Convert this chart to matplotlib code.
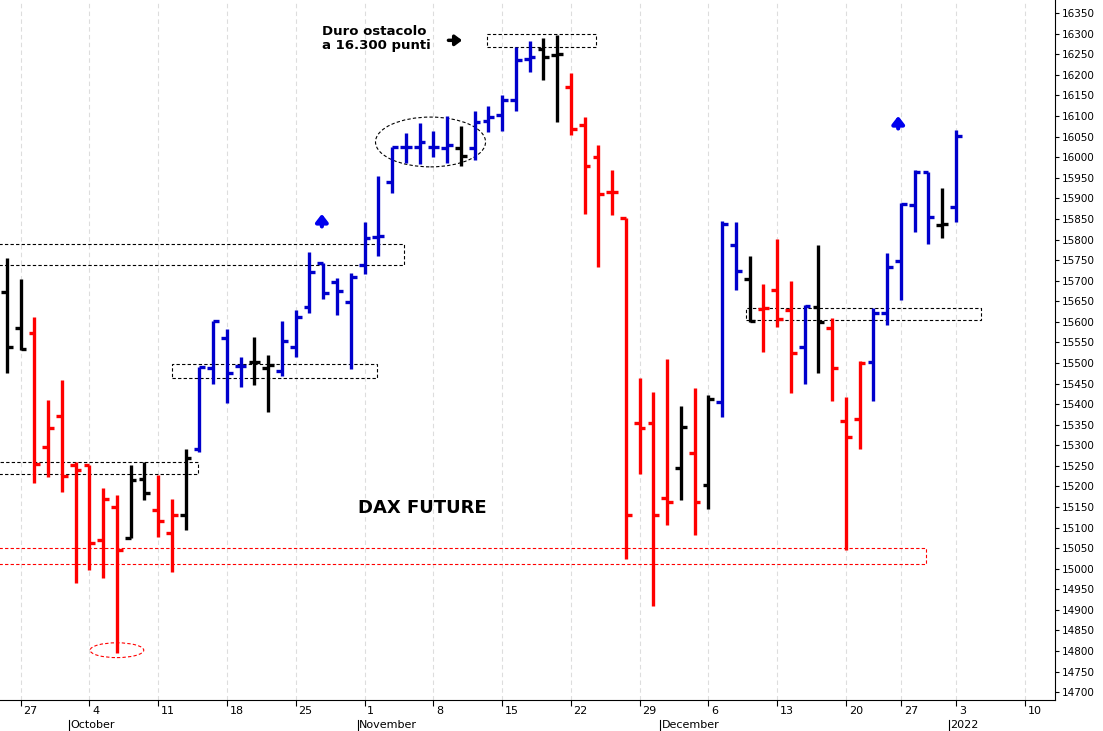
import matplotlib
matplotlib.use("Agg")
import matplotlib.pyplot as plt
from matplotlib.patches import Rectangle, Ellipse

opens = [15672,15585,15572,15295,15371,15251,15251,15069,15150,15074,15218,15142,15086,15130,15291,15487,15560,15492,15502,15487,15480,15538,15636,15742,15696,15648,15738,15806,15939,16024,16024,16026,16022,16022,16022,16088,16102,16139,16238,16263,16248,16170,16078,16000,15915,15852,15354,15354,15171,15244,15281,15203,15405,15786,15704,15631,15677,15628,15538,15636,15585,15359,15363,15502,15621,15747,15883,15963,15835,15879]
highs = [15755,15704,15611,15410,15458,15259,15251,15196,15179,15251,15259,15227,15169,15291,15490,15602,15582,15514,15563,15519,15602,15628,15769,15742,15706,15718,15842,15954,16024,16058,16083,16063,16100,16075,16112,16124,16151,16267,16282,16289,16297,16204,16097,16029,15968,15852,15463,15429,15509,15395,15439,15422,15845,15842,15760,15691,15801,15699,15640,15786,15609,15417,15504,15633,15767,15888,15968,15963,15925,16066]
lows = [15475,15531,15208,15222,15186,14965,14996,14977,14795,15074,15167,15077,14992,15094,15283,15448,15402,15441,15446,15380,15468,15514,15621,15655,15616,15485,15716,15760,15913,15985,15983,16000,15985,15978,15993,16061,16063,16112,16207,16187,16085,16054,15862,15733,15859,15023,15230,14909,15106,15167,15082,15145,15368,15677,15599,15526,15587,15427,15448,15475,15407,15045,15291,15407,15592,15653,15818,15789,15803,15842]
closes = [15538,15535,15254,15342,15225,15239,15062,15169,15045,15215,15184,15116,15130,15269,15490,15602,15475,15492,15502,15495,15553,15611,15721,15670,15674,15708,15803,15808,16024,16026,16037,16024,16029,16003,16085,16097,16139,16236,16243,16243,16250,16068,15978,15910,15915,15130,15342,15130,15162,15344,15162,15412,15837,15723,15601,15633,15606,15524,15638,15599,15487,15320,15499,15621,15733,15886,15963,15854,15837,16051]
colors = list("kkrrrrrrrkkrrkbbbbkkbbbbbbbbbbbbbkbbbbbkkrrrrrrrrkrkbbkrrrbkrrrbbbbbkb")

week_ticks = [1,6,11,16,21,26,31,36,41,46,51,56,61,65,69,74]
week_labels = ["27","4","11","18","25","1","8","15","22","29","6","13","20","27","3","10"]
month_pos = [4.5,25.5,47.5,68.5]
month_labels = ["October","November","December","2022"]

cmap = {"k":"#000000","r":"#ff0000","b":"#0000cc"}

fig = plt.figure(figsize=(11.03,7.31), dpi=100)
ax = fig.add_axes([0.0, 31/731, 1055/1103, 700/731])
ax.set_xlim(-0.5, 76.2)
ax.set_ylim(14681, 16382)

for x in week_ticks:
    ax.axvline(x, color="#dddddd", ls=(0,(4,3)), lw=0.8, zorder=0)

for i,(o,h,l,c,col) in enumerate(zip(opens,highs,lows,closes,colors)):
    cc = cmap[col]
    ax.vlines(i, l, h, color=cc, lw=2.4, zorder=3)
    ax.hlines(o, i-0.42, i, color=cc, lw=2.4, zorder=3)
    ax.hlines(c, i, i+0.42, color=cc, lw=2.4, zorder=3)

def box(x0,x1,y0,y1,col="k"):
    ax.add_patch(Rectangle((x0,y0),x1-x0,y1-y0,fill=False,ec=col,ls=(0,(3,2)),lw=0.8,zorder=2))
box(-0.6,28.9,15738,15789)
box(12.0,26.9,15463,15497)
box(-0.6,13.9,15230,15259)
box(34.9,42.8,16267,16299)
box(53.7,70.8,15604,15633)
box(-0.6,66.8,15011,15050,"#ff0000")
ax.add_patch(Ellipse((30.8,16037),8,121,fill=False,ec="k",ls=(0,(3,2)),lw=0.8))
ax.add_patch(Ellipse((8,14802),3.9,36,fill=False,ec="#ff0000",ls=(0,(3,2)),lw=0.8))

for ax_x, ay in [(22.9,15847),(64.8,16085)]:
    ax.annotate("", xy=(ax_x, ay+22), xytext=(ax_x, ay-22),
                arrowprops=dict(arrowstyle="-|>,head_width=0.35,head_length=0.45", color="#0000ee", lw=3))
ax.annotate("", xy=(33.3,16284), xytext=(31.9,16284),
            arrowprops=dict(arrowstyle="-|>,head_width=0.3,head_length=0.4", color="k", lw=2.5))
ax.text(22.9,16322,"Duro ostacolo\na 16.300 punti",fontsize=9.5,fontweight="bold",va="top",ha="left",linespacing=1.1)
ax.text(30.2,15147,"DAX FUTURE",fontsize=13,fontweight="bold",ha="center",va="center")

ax.yaxis.tick_right()
ax.set_yticks(range(14700,16351,50))
ax.tick_params(axis="y", labelsize=7.5, length=3, pad=2)
ax.set_xticks(week_ticks)
ax.set_xticklabels([])
ax.tick_params(axis="x", length=4)
for x,l in zip(week_ticks,week_labels):
    ax.text(x+0.2,-0.008,l,transform=ax.get_xaxis_transform(),fontsize=8,ha="left",va="top")
for x,l in zip(month_pos,month_labels):
    ax.text(x+0.1,-0.028,l,transform=ax.get_xaxis_transform(),fontsize=8,ha="left",va="top")
    ax.plot([x,x],[-0.028,-0.045],transform=ax.get_xaxis_transform(),color="k",lw=0.8,clip_on=False)
for s in ["top"]:
    ax.spines[s].set_visible(False)
ax.spines["left"].set_visible(False)
fig.savefig("out.png", dpi=100)
